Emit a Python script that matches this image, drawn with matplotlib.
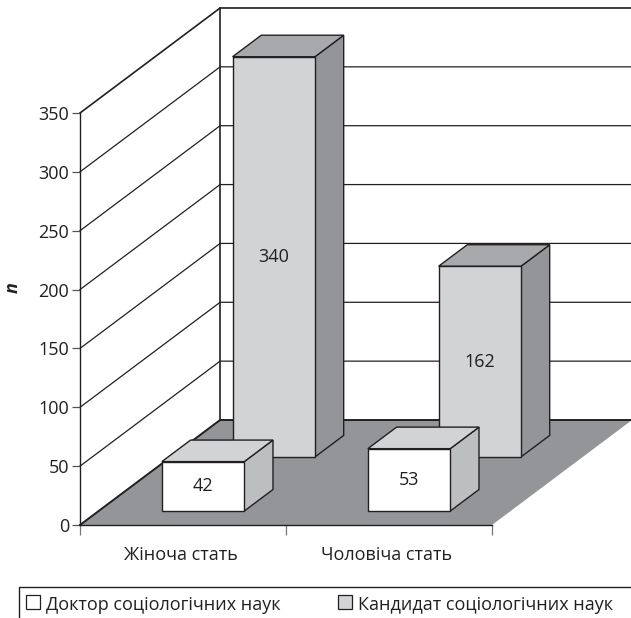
import matplotlib
matplotlib.use('Agg')
import matplotlib.pyplot as plt
from matplotlib.patches import Polygon, Rectangle
from matplotlib.lines import Line2D

plt.rcParams['font.family'] = ['Open Sans', 'DejaVu Sans']

# Data
categories = ['Жіноча стать', 'Чоловіча стать']
doctors = [42, 53]
candidates = [340, 162]
series_names = ['Доктор соціологічних наук', 'Кандидат соціологічних наук']
y_ticks = [0, 50, 100, 150, 200, 250, 300, 350]

# Oblique depth of the box, in axis units (category, value)
DEPTH_X = 0.68
DEPTH_Y = 89.2

DARK = '#231f20'
FLOOR = '#939598'
FONT = 13

W, H = 631, 618
fig = plt.figure(figsize=(W / 100, H / 100), dpi=100)
# the axes itself is the front plane of the 3D box
ax = fig.add_axes([80 / W, (H - 525) / H, 412 / W, 412 / H])
ax.set_xlim(0, 2)
ax.set_ylim(0, 350)
ax.patch.set_visible(False)


def project(x, d, v):
    return (x + d * DEPTH_X, v + d * DEPTH_Y)


def add_poly(points, color, edge=DARK, lw=1.0, z=1):
    ax.add_patch(Polygon(points, closed=True, facecolor=color, edgecolor=edge,
                         linewidth=lw, clip_on=False, zorder=z, joinstyle='miter'))


def draw_bar(x0, value, d0, d1, front, top, side, z):
    x1 = x0 + 0.4
    add_poly([project(x1, d0, 0), project(x1, d1, 0), project(x1, d1, value), project(x1, d0, value)],
             side, z=z)
    add_poly([project(x0, d0, value), project(x1, d0, value), project(x1, d1, value), project(x0, d1, value)],
             top, z=z)
    add_poly([project(x0, d0, 0), project(x1, d0, 0), project(x1, d0, value), project(x0, d0, value)],
             front, z=z)
    cx, cy = project((x0 + x1) / 2, d0, value / 2)
    ax.text(cx, cy, str(value), ha='center', va='center', fontsize=FONT, color=DARK, zorder=z + 0.1)


# Gridlines on the side wall and the back wall
for v in y_ticks[1:]:
    pts = [project(0, 0, v), project(0, 1, v), project(2, 1, v)]
    lw = 1.2 if v == 350 else 0.9
    ax.plot([p[0] for p in pts], [p[1] for p in pts], color=DARK, lw=lw, clip_on=False, zorder=1)

# Back wall edge
pts = [project(0, 1, 0), project(0, 1, 350)]
ax.plot([p[0] for p in pts], [p[1] for p in pts], color=DARK, lw=1.2, clip_on=False, zorder=1)

# Floor
add_poly([project(0, 0, 0), project(2, 0, 0), project(2, 1, 0), project(0, 1, 0)], FLOOR, edge='none', z=1.5)
pts = [project(0, 0, 0), project(0, 1, 0), project(2, 1, 0)]
ax.plot([p[0] for p in pts], [p[1] for p in pts], color=DARK, lw=1.4, clip_on=False, zorder=1.6)

# Rear series first, front series over it
for i in range(len(categories)):
    draw_bar(i + 0.3, candidates[i], 0.648, 0.853, '#d1d3d4', '#a7a9ac', '#939598', 2)
for i in range(len(categories)):
    draw_bar(i + 0.307, doctors[i], 0.133, 0.338, '#ffffff', '#d1d3d4', '#bcbec0', 3)

# Axes, ticks and labels
ax.spines['top'].set_visible(False)
ax.spines['right'].set_visible(False)
for s in ['left', 'bottom']:
    ax.spines[s].set_color(DARK)
    ax.spines[s].set_linewidth(1.0)
ax.set_yticks(y_ticks)
ax.tick_params(axis='y', direction='out', length=6, width=0.9, color='#555555',
               labelsize=FONT, labelcolor=DARK, pad=2)
ax.set_xticks([0, 1, 2])
ax.set_xticklabels(['', '', ''])
ax.set_xticks([0.49, 1.49], minor=True)
ax.set_xticklabels(categories, minor=True, fontsize=FONT, color=DARK)
ax.tick_params(axis='x', which='major', direction='out', length=7, width=0.9, color='#777777')
ax.tick_params(axis='x', which='minor', length=0, pad=15)

fig.text(13 / W, 1 - 288 / H, 'n', rotation=90, ha='center', va='center',
         fontsize=13, fontweight='bold', fontstyle='italic', color=DARK)

# Legend box runs off the right and bottom edge of the picture
fig.add_artist(Line2D([19 / W, 19 / W, 1], [0, 1 - 587 / H, 1 - 587 / H], color=DARK, lw=1.0))
legend_x = [26, 338]
for i, name in enumerate(series_names):
    color = ['#ffffff', '#d1d3d4'][i]
    fig.add_artist(Rectangle((legend_x[i] / W, 1 - 609 / H), 14 / W, 14 / H, transform=fig.transFigure,
                             facecolor=color, edgecolor=DARK, linewidth=0.9))
    fig.text((legend_x[i] + 20) / W, 1 - 605 / H, name, ha='left', va='center', fontsize=FONT, color=DARK)

fig.savefig('out.png', dpi=100)
